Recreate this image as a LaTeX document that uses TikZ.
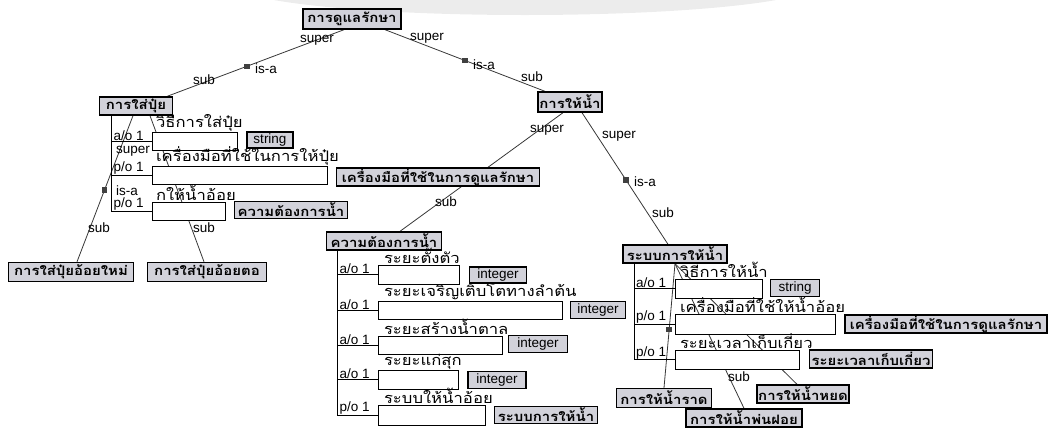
\documentclass[tikz,border=0pt]{standalone}
\usepackage{fontspec}
\setmainfont{Liberation Sans}
\newfontfamily\thai[Script=Thai,FakeStretch=1.15]{Loma}
\definecolor{clsgrey}{RGB}{210,210,218}
\definecolor{linegrey}{RGB}{55,55,55}
\definecolor{hazecol}{RGB}{236,236,236}
\pgfdeclarelayer{haze}
\pgfdeclarelayer{bg}
\pgfsetlayers{haze,bg,main}
\begin{document}
\begin{tikzpicture}[x=1pt,y=-1pt,
  cls/.style={draw=black, fill=clsgrey, line width=1.4pt, inner sep=0pt,
    font=\thai\bfseries\fontsize{13}{13}\selectfont},
  lit/.style={cls, font=\fontsize{13.5}{14}\selectfont},
  slot/.style={draw=black, fill=white, line width=1pt, inner sep=0pt},
  tlbl/.style={font=\thai\fontsize{14.5}{14.5}\selectfont, inner sep=0.3pt, anchor=south west},
  lbl/.style={font=\fontsize{13.5}{14}\selectfont, inner sep=0pt, anchor=west},
  rowlbl/.style={font=\fontsize{13.5}{14}\selectfont, inner sep=0.5pt, anchor=south west},
  link/.style={draw=linegrey, line width=0.8pt},
  isamark/.style={fill=black!75, minimum size=5.5pt, inner sep=0pt}
]
\useasboundingbox (0,0) rectangle (1049,429);

% soft grey band along the top edge
\begin{pgfonlayer}{haze}
  \clip (0,0) rectangle (1049,429);
  \fill[hazecol] (525,-15) ellipse [x radius=290pt, y radius=30pt];
\end{pgfonlayer}

% ---- class frames ----
\node[cls, minimum width=98pt, minimum height=20pt] (top) at (352,19) {การดูแลรักษา};
\node[cls, minimum width=73pt, minimum height=18pt] (fert) at (136,106) {การใส่ปุ๋ย};
\node[cls, minimum width=64pt, minimum height=20pt] (water) at (570,102) {การให้น้ำ};
\node[cls, minimum width=203pt, minimum height=18pt] (tools) at (438,177) {เครื่องมือที่ใช้ในการดูแลรักษา};
\node[cls, minimum width=115pt, minimum height=18pt] (need) at (384,241) {ความต้องการน้ำ};
\node[cls, minimum width=104pt, minimum height=18pt] (sys) at (675,254) {ระบบการให้น้ำ};
\node[cls, minimum width=125pt, minimum height=19pt] (fertnew) at (71,272) {การใส่ปุ๋ยอ้อยใหม่};
\node[cls, minimum width=119pt, minimum height=19pt] (fertold) at (207,272) {การใส่ปุ๋ยอ้อยตอ};
\node[cls, minimum width=95pt, minimum height=19pt] (pour) at (664,398) {การให้น้ำราด};
\node[cls, minimum width=116pt, minimum height=18pt] (spray) at (744,418) {การให้น้ำพ่นฝอย};
\node[cls, minimum width=92pt, minimum height=18pt] (drip) at (803,394) {การให้น้ำหยด};

% ---- slots of การใส่ปุ๋ย ----
\node[slot, minimum width=85pt, minimum height=18pt] (s1) at (194.5,141) {};
\node[slot, minimum width=175pt, minimum height=18pt] (s2) at (239.5,175) {};
\node[slot, minimum width=73pt, minimum height=18pt] (s3) at (188.5,211) {};
\node[tlbl] (s1t) at ([xshift=4pt]s1.north west) {วิธีการใส่ปุ๋ย};
\node[tlbl] (s2t) at ([xshift=4pt]s2.north west) {เครื่องมือที่ใช้ในการให้ปุ๋ย};
\node[tlbl] (s3t) at ([xshift=4pt]s3.north west) {กให้น้ำอ้อย};
\node[lit, minimum width=46pt, minimum height=16pt] (str1) at (270,140) {string};
\node[cls, minimum width=113pt, minimum height=17pt] (need2) at (291,210) {ความต้องการน้ำ};

% ---- slots of ความต้องการน้ำ ----
\node[slot, minimum width=81pt, minimum height=19pt] (m1) at (418.5,274.5) {};
\node[slot, minimum width=184pt, minimum height=18pt] (m2) at (470,310) {};
\node[slot, minimum width=124pt, minimum height=18pt] (m3) at (440,345) {};
\node[slot, minimum width=80pt, minimum height=19pt] (m4) at (418,379.5) {};
\node[slot, minimum width=107pt, minimum height=20pt] (m5) at (431.5,415) {};
\node[tlbl] (m1t) at ([xshift=6pt]m1.north west) {ระยะตั้งตัว};
\node[tlbl] (m2t) at ([xshift=6pt]m2.north west) {ระยะเจริญเติบโตทางลำต้น};
\node[tlbl] (m3t) at ([xshift=6pt]m3.north west) {ระยะสร้างน้ำตาล};
\node[tlbl] (m4t) at ([xshift=6pt]m4.north west) {ระยะแก่สุก};
\node[tlbl] (m5t) at ([xshift=6pt]m5.north west) {ระบบให้น้ำอ้อย};
\node[lit, minimum width=57pt, minimum height=16pt] (int1) at (498,275) {integer};
\node[lit, minimum width=55pt, minimum height=17pt] (int2) at (598,310) {integer};
\node[lit, minimum width=59pt, minimum height=17pt] (int3) at (538,344) {integer};
\node[lit, minimum width=58pt, minimum height=17pt] (int4) at (497,380) {integer};
\node[cls, minimum width=103pt, minimum height=17pt] (sysr) at (546,415) {ระบบการให้น้ำ};

% ---- slots of ระบบการให้น้ำ ----
\node[slot, minimum width=87pt, minimum height=19pt] (r1) at (718.5,288.5) {};
\node[slot, minimum width=160pt, minimum height=20pt] (r2) at (755,324) {};
\node[slot, minimum width=124pt, minimum height=19pt] (r3) at (737,359.5) {};
\node[tlbl] (r1t) at ([xshift=5pt]r1.north west) {วิธีการให้น้ำ};
\node[tlbl] (r2t) at ([xshift=5pt]r2.north west) {เครื่องมือที่ใช้ให้น้ำอ้อย};
\node[tlbl] (r3t) at ([xshift=5pt]r3.north west) {ระยะเวลาเก็บเกี่ยว};
\node[lit, minimum width=49pt, minimum height=17pt] (str2) at (795,288) {string};
\node[cls, minimum width=202pt, minimum height=18pt] (toolsr) at (946,324) {เครื่องมือที่ใช้ในการดูแลรักษา};
\node[cls, minimum width=123pt, minimum height=18pt] (harvest) at (871,359) {ระยะเวลาเก็บเกี่ยว};

% ---- connectors, drawn underneath the frames ----
\begin{pgfonlayer}{bg}
  % is-a links from the root
  \draw[link] ([xshift=-8pt]top.south) -- node[isamark, pos=0.55] (mk1) {} ([xshift=-6pt]fert.north east);
  \draw[link] ([xshift=33pt]top.south) -- node[isamark, pos=0.5] (mk2) {} ([xshift=-25pt]water.north);
  \node[lbl] (l1) at (300,40) {super};
  \node[lbl] (l2) at (255,69) {is-a};
  \node[lbl] (l3) at (193,80) {sub};
  \node[lbl] (l4) at (410,38) {super};
  \node[lbl] (l5) at (473,65) {is-a};
  \node[lbl] (l6) at (521,77) {sub};

  % subclasses of การใส่ปุ๋ย
  \draw[link] ([xshift=-3pt]fert.south) -- node[isamark, pos=0.51] (mk3) {} ([xshift=6pt]fertnew.north);
  \draw[link] ([xshift=14pt]fert.south) -- ([xshift=-3pt]fertold.north);
  \node[lbl] (l7) at (116,151) {super};
  \node[lbl] (l8) at (116,191) {is-a};
  \node[lbl] (l9) at (88,228) {sub};
  \node[lbl] (l10) at (193,228) {sub};

  % subclasses of การให้น้ำ
  \draw[link] ([xshift=-7pt]water.south) -- ([xshift=16pt]need.north);
  \draw[link] ([xshift=12pt]water.south) -- node[isamark, pos=0.51] (mk4) {} ([xshift=-7pt]sys.north);
  \node[lbl] (l11) at (530,130) {super};
  \node[lbl] (l12) at (435,202) {sub};
  \node[lbl] (l13) at (602,136) {super};
  \node[lbl] (l14) at (634,182) {is-a};
  \node[lbl] (l15) at (652,213) {sub};

  % subclasses of ระบบการให้น้ำ
  \draw[link] (sys.south) -- node[isamark, pos=0.53] (mk5) {} (pour.north);
  \draw[link] (sys.south) -- (spray.north);
  \draw[link] (sys.south) -- ([xshift=-6pt]drip.north);
  \node[lbl] (l16) at (728,377) {sub};

  % slot rails
  \coordinate (lspine) at ([xshift=13pt]fert.south west);
  \coordinate (mspine) at ([xshift=12pt]need.south west);
  \coordinate (rspine) at ([xshift=12pt]sys.south west);
  \draw[link, draw=black] (lspine) |- (s3.west);
  \draw[link, draw=black] (lspine |- s1.west) -- (s1.west);
  \draw[link, draw=black] (lspine |- s2.west) -- (s2.west);
  \draw[link, draw=black] (mspine) |- (m5.west);
  \foreach \s in {m1,m2,m3,m4} \draw[link, draw=black] (mspine |- \s.west) -- (\s.west);
  \draw[link, draw=black] (rspine) |- (r3.west);
  \foreach \s in {r1,r2} \draw[link, draw=black] (rspine |- \s.west) -- (\s.west);
\end{pgfonlayer}

% cardinality labels
\path (lspine |- s1.west) ++(1,0) node[rowlbl] (c1) {a/o 1};
\path (lspine |- s2.west) ++(1,0) node[rowlbl] (c2) {p/o 1};
\path (lspine |- s3.west) ++(1,0) node[rowlbl] (c3) {p/o 1};
\path (mspine |- m1.west) ++(1,0) node[rowlbl] (c4) {a/o 1};
\path (mspine |- m2.west) ++(1,0) node[rowlbl] (c5) {a/o 1};
\path (mspine |- m3.west) ++(1,0) node[rowlbl] (c6) {a/o 1};
\path (mspine |- m4.west) ++(1,0) node[rowlbl] (c7) {a/o 1};
\path (mspine |- m5.west) ++(1,0) node[rowlbl] (c8) {p/o 1};
\path (rspine |- r1.west) ++(1,0) node[rowlbl] (c9) {a/o 1};
\path (rspine |- r2.west) ++(1,0) node[rowlbl] (c10) {p/o 1};
\path (rspine |- r3.west) ++(1,0) node[rowlbl] (c11) {p/o 1};
\end{tikzpicture}
\end{document}
